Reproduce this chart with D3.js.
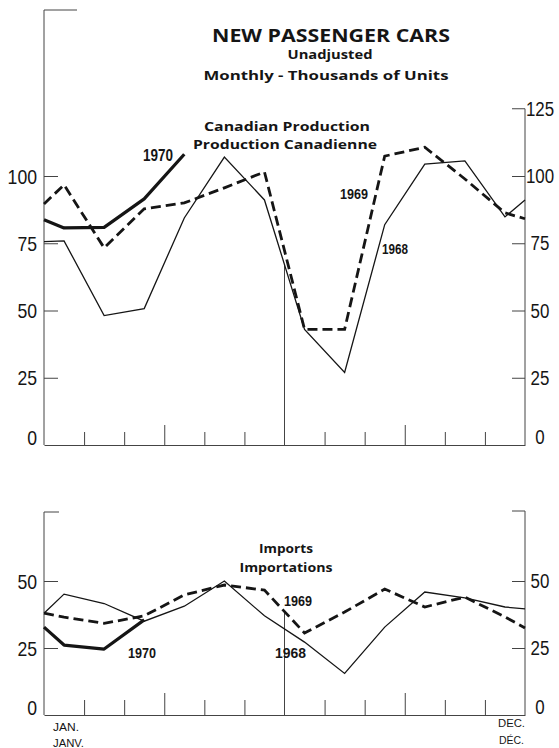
<!DOCTYPE html>
<html><head><meta charset="utf-8">
<script src="https://cdn.jsdelivr.net/npm/d3@7"></script>
<style>
html,body{margin:0;padding:0;background:#fff;}
svg{display:block;}
</style></head>
<body>
<script>
// ---- data ----
// slots: chart start edge, JAN..DEC (mid-month), chart end edge
const slots = ["start","JAN","FEB","MAR","APR","MAY","JUN","JUL","AUG","SEP","OCT","NOV","DEC","end"];
const prod1968 = [75.6, 75.9, 48.1, 50.7, 84.4, 107, 91.1, 43, 27, 81.9, 104.4, 105.6, 84.8, 91.1];
const prod1969 = [89.6, 96.7, 73.3, 87.8, 90, 95.6, 101.5, 43, 43, 107.4, 110.7, 98.9, 86.3, 84.1];
const prod1970 = [83.7, 80.7, 80.9, 91.5, 108.1];
const imp1968 = [38, 45.1, 41.6, 35, 40.6, 50, 37, 27.2, 15.5, 32.8, 45.9, 43.7, 40.3, 39.6];
const imp1969 = [38, 36.5, 34.2, 37, 44.8, 48.5, 46.6, 30.6, 38.4, 47, 40.3, 44, 36.6, 32.5];
const imp1970 = [32.8, 26.1, 24.6, 35.5];
const prodTicksLeft = [0, 25, 50, 75, 100];
const prodTicksRight = [0, 25, 50, 75, 100, 125];
const impTicks = [0, 25, 50];
const monthTicks = [0,1,2,3,4,5,6,7,8,9,10,11,12];

const W = 559, H = 748;
const svg = d3.select("body").append("svg").attr("width", W).attr("height", H);
const ink = "#151515";
const numFont = "'Liberation Sans Narrow', 'Liberation Sans', sans-serif";
const boldFont = "'Open Sans', 'DejaVu Sans', sans-serif";

const slotX = i => (i === 0 ? 0 : (i === slots.length - 1 ? 12 : i - 0.5));
const x = d3.scaleLinear().domain([0, 12]).range([44, 525]);

function panel(cfg) {
  const y = d3.scaleLinear().domain([0, cfg.max]).range([cfg.base, cfg.base - cfg.max * cfg.ppu]);
  const g = svg.append("g");
  g.append("line").attr("x1", x(0)).attr("x2", x(0)).attr("y1", y(0)).attr("y2", cfg.leftTop)
    .attr("stroke", "#444").attr("stroke-width", 1);
  g.append("line").attr("x1", x(0)).attr("x2", x(0) + cfg.leftTopTick).attr("y1", cfg.leftTop).attr("y2", cfg.leftTop)
    .attr("stroke", "#444").attr("stroke-width", 1);
  g.append("line").attr("x1", x(12)).attr("x2", x(12)).attr("y1", y(0)).attr("y2", cfg.rightTop)
    .attr("stroke", "#444").attr("stroke-width", 1);
  g.append("line").attr("x1", x(12)).attr("x2", x(12) - 13).attr("y1", cfg.rightTop).attr("y2", cfg.rightTop)
    .attr("stroke", "#444").attr("stroke-width", 1);
  const la = g.append("g").attr("transform", `translate(${x(0)},0)`)
    .call(d3.axisRight(y).tickValues(cfg.leftTicks.filter(v => v > 0)).tickSize(14).tickSizeOuter(0).tickFormat(""));
  la.select(".domain").remove();
  la.selectAll("line").attr("stroke", "#444");
  const ra = g.append("g").attr("transform", `translate(${x(12)},0)`)
    .call(d3.axisLeft(y).tickValues(cfg.rightTicks.filter(v => v > 0 && v < cfg.max)).tickSize(13).tickSizeOuter(0).tickFormat(""));
  ra.select(".domain").remove();
  ra.selectAll("line").attr("stroke", "#444");
  g.selectAll(".ll").data(cfg.leftTicks).join("text")
    .attr("x", 37).attr("y", d => y(d) - (d === 0 ? 8 : 0))
    .attr("text-anchor", "end").attr("dominant-baseline", "central")
    .attr("font-family", numFont).attr("font-size", 21).attr("fill", ink)
    .attr("textLength", d => String(d).length * 9.8).attr("lengthAdjust", "spacingAndGlyphs").text(d => d);
  g.selectAll(".rl").data(cfg.rightTicks).join("text")
    .attr("x", 540).attr("y", d => y(d) - (d === 0 ? 8 : 0))
    .attr("text-anchor", "middle").attr("dominant-baseline", "central")
    .attr("font-family", numFont).attr("font-size", 20).attr("fill", ink)
    .attr("textLength", d => String(d).length * 9.4).attr("lengthAdjust", "spacingAndGlyphs").text(d => d);
  const xa = g.append("g").attr("transform", `translate(0,${y(0)})`)
    .call(d3.axisTop(x).tickValues(monthTicks.filter(m => m > 0 && m < 12 && m !== 6)).tickSizeOuter(0).tickFormat(""));
  xa.select(".domain").attr("stroke", "#444");
  xa.selectAll(".tick line").attr("stroke", "#444").attr("y2", m => (m === 3 || m === 9) ? -cfg.longTick : -cfg.shortTick);
  const line = d3.line().x(d => x(d.x)).y(d => y(d.v));
  const toPts = arr => arr.map((v, i) => ({ x: slotX(i), v }));
  const vs = toPts(cfg.markerSeries);
  const a = vs[6], b = vs[7];
  const vMid = a.v + (b.v - a.v) * (6 - a.x) / (b.x - a.x);
  g.append("line").attr("x1", x(6)).attr("x2", x(6)).attr("y1", y(0)).attr("y2", y(vMid))
    .attr("stroke", "#444").attr("stroke-width", 1);
  g.append("path").datum(toPts(cfg.s68)).attr("d", line).attr("fill", "none")
    .attr("stroke", ink).attr("stroke-width", 1.3).attr("stroke-linejoin", "miter");
  g.append("path").datum(toPts(cfg.s69)).attr("d", line).attr("fill", "none")
    .attr("stroke", ink).attr("stroke-width", 2.8).attr("stroke-dasharray", "10,5");
  g.append("path").datum(toPts(cfg.s70)).attr("d", line).attr("fill", "none")
    .attr("stroke", ink).attr("stroke-width", 3.2).attr("stroke-linejoin", "round");
  return { g, y };
}

const prodPanel = panel({ max: 125, base: 445, ppu: 2.69, leftTop: 10, leftTopTick: 33, rightTop: 445 - 125 * 2.69,
  leftTicks: prodTicksLeft, rightTicks: prodTicksRight, shortTick: 13, longTick: 20,
  s68: prod1968, s69: prod1969, s70: prod1970, markerSeries: prod1968 });
const impPanel = panel({ max: 75, base: 715, ppu: 2.68, leftTop: 512, leftTopTick: 15, rightTop: 511,
  leftTicks: impTicks, rightTicks: impTicks, shortTick: 15, longTick: 22,
  s68: imp1968, s69: imp1969, s70: imp1970, markerSeries: imp1969 });

function txt(s, xx, yy, opt) {
  const t = svg.append("text").attr("x", xx).attr("y", yy)
    .attr("font-family", opt.font || boldFont).attr("font-size", opt.size)
    .attr("font-weight", opt.weight || "bold").attr("fill", ink)
    .attr("text-anchor", opt.anchor || "middle").text(s);
  if (opt.len) t.attr("textLength", opt.len).attr("lengthAdjust", "spacingAndGlyphs");
  return t;
}
txt("NEW PASSENGER CARS", 331, 42, { size: 17, len: 238 });
txt("Unadjusted", 330, 59, { size: 12.5, len: 85 });
txt("Monthly - Thousands of Units", 326, 80, { size: 12.5, len: 245 });
txt("Canadian Production", 287, 131, { size: 12.5, len: 166 });
txt("Production Canadienne", 285, 149, { size: 12.5, len: 184 });
txt("Imports", 286, 553, { size: 12.5, len: 54 });
txt("Importations", 286, 572, { size: 12.5, len: 93 });
const yr = { font: numFont, size: 16, weight: "bold", anchor: "start" };
txt("1970", 143, 161, Object.assign({}, yr, { len: 30 }));
txt("1969", 340, 199, Object.assign({}, yr, { len: 28, size: 15 }));
txt("1968", 382, 254, Object.assign({}, yr, { len: 26, size: 14 }));
txt("1970", 128, 658, Object.assign({}, yr, { len: 28, size: 15 }));
txt("1969", 284, 606, Object.assign({}, yr, { len: 28, size: 15 }));
txt("1968", 275, 658, Object.assign({}, yr, { len: 31, size: 15 }));
const ml = { font: "'Liberation Sans', sans-serif", size: 10, weight: "normal", anchor: "start" };
txt("JAN.", 53, 731, Object.assign({}, ml, { len: 26 }));
txt("JANV.", 53, 747, Object.assign({}, ml, { len: 31 }));
txt("DEC.", 525, 727, Object.assign({}, ml, { anchor: "end", len: 27 }));
txt("DÉC.", 524, 744, Object.assign({}, ml, { anchor: "end", len: 25 }));
</script>
</body></html>
